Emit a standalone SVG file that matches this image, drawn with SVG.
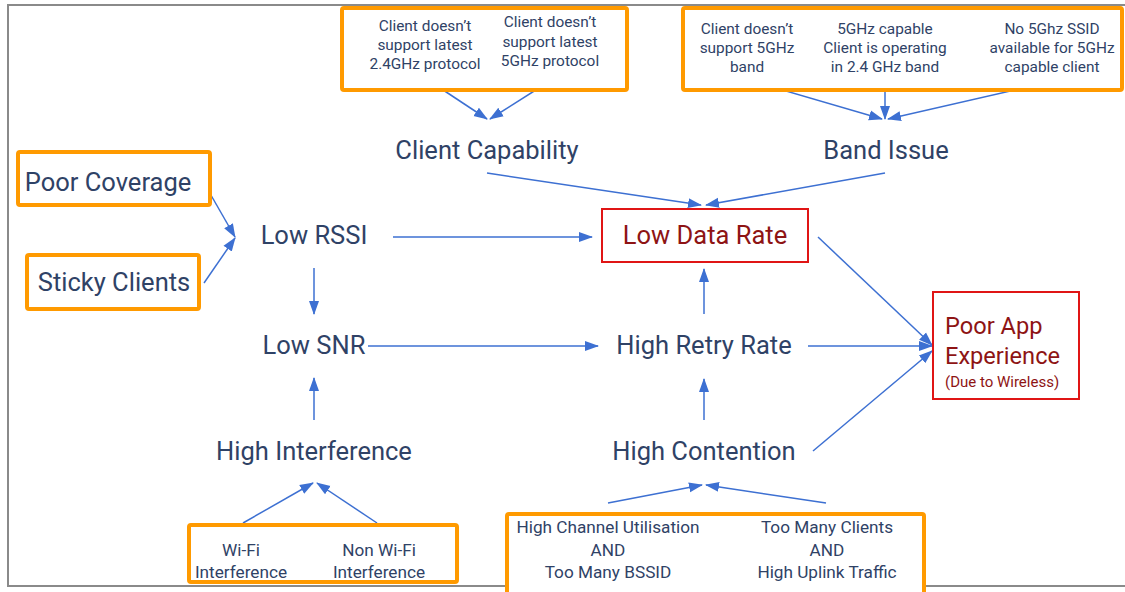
<svg xmlns="http://www.w3.org/2000/svg" width="1125" height="592" viewBox="0 0 1125 592">
  <style>
    .lbl { font-family: Roboto, "Liberation Sans", sans-serif; fill: #2f4266; text-anchor: middle; }
    .big { font-size: 25.5px; }
    .small { font-size: 15.4px; }
    .mid { font-size: 17.2px; }
    .red { fill: #8e1414; }
    .obox { fill: #ffffff; stroke: #ff9a00; stroke-width: 4; }
    .rbox { fill: #ffffff; stroke: #e01515; stroke-width: 2; }
    .edge { stroke: #3d70d2; stroke-width: 1.5; fill: none; marker-end: url(#arrow); }
  </style>
  <defs>
    <marker id="arrow" markerUnits="userSpaceOnUse" markerWidth="14" markerHeight="12" viewBox="0 0 14 12" refX="13" refY="6" orient="auto">
      <path d="M0,1 L14,6 L0,11 Z" fill="#3d70d2"/>
    </marker>
  </defs>

  <rect x="0" y="0" width="1125" height="592" fill="#ffffff"/>
  <!-- outer frame -->
  <rect x="8" y="5" width="1130" height="581" fill="none" stroke="#8a8a8a" stroke-width="2"/>

  <!-- connectors -->
  <g id="connectors">
    <line class="edge" x1="425" y1="78" x2="487" y2="119"/>
    <line class="edge" x1="550" y1="81" x2="490" y2="119"/>
    <line class="edge" x1="748" y1="80" x2="882" y2="119"/>
    <line class="edge" x1="885" y1="76" x2="885" y2="119"/>
    <line class="edge" x1="1050" y1="82" x2="888" y2="119"/>
    <line class="edge" x1="487" y1="173" x2="701" y2="205"/>
    <line class="edge" x1="885" y1="173" x2="706" y2="205"/>
    <line class="edge" x1="204" y1="183" x2="235" y2="237"/>
    <line class="edge" x1="204" y1="283" x2="235" y2="238"/>
    <line class="edge" x1="393" y1="237" x2="592" y2="237"/>
    <line class="edge" x1="314" y1="268" x2="314" y2="314"/>
    <line class="edge" x1="368" y1="346" x2="598" y2="346"/>
    <line class="edge" x1="704" y1="314" x2="704" y2="269"/>
    <line class="edge" x1="314" y1="420" x2="314" y2="378"/>
    <line class="edge" x1="704" y1="420" x2="704" y2="379"/>
    <line class="edge" x1="818" y1="237" x2="932" y2="345"/>
    <line class="edge" x1="808" y1="346" x2="932" y2="346"/>
    <line class="edge" x1="813" y1="451" x2="932" y2="351"/>
    <line class="edge" x1="243" y1="523" x2="313" y2="483"/>
    <line class="edge" x1="377" y1="523" x2="317" y2="483"/>
    <line class="edge" x1="608" y1="503" x2="702" y2="485"/>
    <line class="edge" x1="826" y1="503" x2="706" y2="485"/>
  </g>

  <!-- source boxes -->
  <g id="client-causes">
    <rect class="obox" x="342" y="8" width="285" height="82" rx="2"/>
    <text class="lbl small"><tspan x="425" y="31">Client doesn’t</tspan><tspan x="425" y="50">support latest</tspan><tspan x="425" y="69">2.4GHz protocol</tspan></text>
    <text class="lbl small"><tspan x="550" y="27">Client doesn’t</tspan><tspan x="550" y="47">support latest</tspan><tspan x="550" y="66">5GHz protocol</tspan></text>
  </g>
  <g id="band-causes">
    <rect class="obox" x="683" y="8" width="439" height="82" rx="2"/>
    <text class="lbl small"><tspan x="747" y="34">Client doesn’t</tspan><tspan x="747" y="53">support 5GHz</tspan><tspan x="747" y="72">band</tspan></text>
    <text class="lbl small"><tspan x="885" y="34">5GHz capable</tspan><tspan x="885" y="53">Client is operating</tspan><tspan x="885" y="72">in 2.4 GHz band</tspan></text>
    <text class="lbl small"><tspan x="1052" y="34">No 5Ghz SSID</tspan><tspan x="1052" y="53">available for 5GHz</tspan><tspan x="1052" y="72">capable client</tspan></text>
  </g>
  <g id="poor-coverage">
    <rect class="obox" x="18" y="152" width="192" height="53" rx="2"/>
    <text class="lbl big" x="108" y="191">Poor Coverage</text>
  </g>
  <g id="sticky-clients">
    <rect class="obox" x="27" y="255" width="172" height="54" rx="2"/>
    <text class="lbl big" x="114" y="291">Sticky Clients</text>
  </g>
  <g id="interference-causes">
    <rect class="obox" x="189" y="525" width="268" height="57" rx="2"/>
    <text class="lbl mid"><tspan x="241" y="556">Wi-Fi</tspan><tspan x="241" y="578">Interference</tspan></text>
    <text class="lbl mid"><tspan x="379" y="556">Non Wi-Fi</tspan><tspan x="379" y="578">Interference</tspan></text>
  </g>
  <g id="contention-causes">
    <rect class="obox" x="507" y="514" width="417" height="90" rx="2"/>
    <text class="lbl mid"><tspan x="608" y="533">High Channel Utilisation</tspan><tspan x="608" y="556">AND</tspan><tspan x="608" y="578">Too Many BSSID</tspan></text>
    <text class="lbl mid"><tspan x="827" y="533">Too Many Clients</tspan><tspan x="827" y="556">AND</tspan><tspan x="827" y="578">High Uplink Traffic</tspan></text>
  </g>

  <!-- intermediate nodes -->
  <g id="client-capability"><text class="lbl big" x="487" y="159">Client Capability</text></g>
  <g id="band-issue"><text class="lbl big" x="886" y="159">Band Issue</text></g>
  <g id="low-rssi"><text class="lbl big" x="314" y="244">Low RSSI</text></g>
  <g id="low-snr"><text class="lbl big" x="314" y="354">Low SNR</text></g>
  <g id="high-interference"><text class="lbl big" x="314" y="460">High Interference</text></g>
  <g id="high-retry-rate"><text class="lbl big" x="704" y="354">High Retry Rate</text></g>
  <g id="high-contention"><text class="lbl big" x="704" y="460">High Contention</text></g>

  <!-- outcome nodes -->
  <g id="low-data-rate">
    <rect class="rbox" x="602" y="209" width="206" height="53"/>
    <text class="lbl big red" x="705" y="244">Low Data Rate</text>
  </g>
  <g id="poor-app-experience">
    <rect class="rbox" x="933" y="292" width="146" height="107"/>
    <text class="lbl red" x="945" y="334" style="text-anchor:start;font-size:23.6px">Poor App</text>
    <text class="lbl red" x="945" y="364" style="text-anchor:start;font-size:23.6px">Experience</text>
    <text class="lbl red" x="945" y="387" style="text-anchor:start;font-size:15px">(Due to Wireless)</text>
  </g>
</svg>
